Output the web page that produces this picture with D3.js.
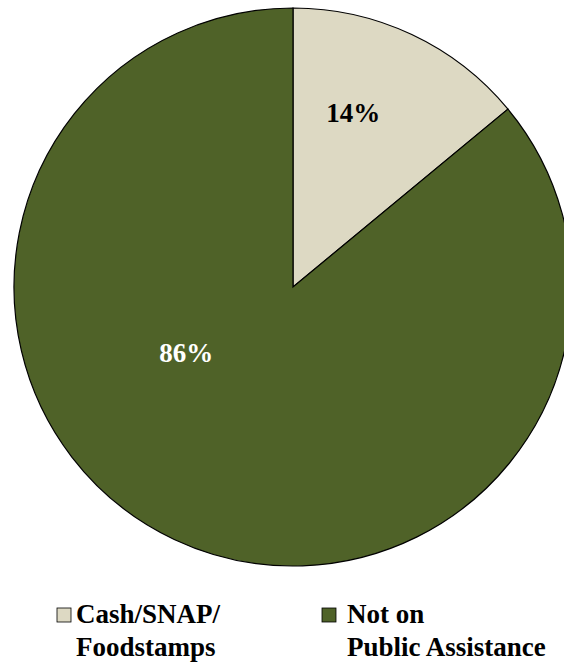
<!DOCTYPE html>
<html>
<head>
<meta charset="utf-8">
<script src="https://cdn.jsdelivr.net/npm/d3@7"></script>
<style>
  html, body { margin: 0; padding: 0; background: #fff; }
  svg { display: block; }
</style>
</head>
<body>
<svg id="chart" width="564" height="662"></svg>
<script>
// Share of households by public assistance status
const categories = ["Cash/SNAP/\nFoodstamps", "Not on\nPublic Assistance"];
const values = [14, 86];
const valueLabels = ["14%", "86%"];
const colors = ["#DDD9C3", "#4F6228"];
const labelColors = ["#000000", "#FFFFFF"];

const width = 564, height = 662;
const cx = 293, cy = 287, radius = 279;
const fontStack = "'Liberation Serif', 'Times New Roman', 'DejaVu Serif', serif";

const svg = d3.select("#chart");

const pie = d3.pie().sort(null).value(d => d)(values);
const arc = d3.arc().innerRadius(0).outerRadius(radius);

const g = svg.append("g").attr("transform", `translate(${cx},${cy})`);

g.selectAll("path.slice")
  .data(pie)
  .join("path")
  .attr("class", "slice")
  .attr("d", arc)
  .attr("fill", (d, i) => colors[i])
  .attr("stroke", "#000")
  .attr("stroke-width", 1.2);

// label placement inside each slice: fraction along the slice's angle span and of the radius
const labelPlace = [{ t: 0.377, r: 0.663 }, { t: 0.608, r: 0.448 }];
g.selectAll("text.value")
  .data(pie)
  .join("text")
  .attr("class", "value")
  .each(function (d, i) {
    const a = d.startAngle + labelPlace[i].t * (d.endAngle - d.startAngle);
    const rr = labelPlace[i].r * radius;
    d3.select(this)
      .attr("x", rr * Math.sin(a))
      .attr("y", -rr * Math.cos(a))
      .attr("dy", "0.35em");
  })
  .attr("text-anchor", "middle")
  .attr("font-family", fontStack)
  .attr("font-weight", "bold")
  .attr("font-size", 27)
  .attr("fill", (d, i) => labelColors[i])
  .text((d, i) => valueLabels[i]);

// legend
const legendX = [57, 322];
const textOffset = [19, 25];
const legend = svg.append("g");
categories.forEach((c, i) => {
  const lg = legend.append("g").attr("transform", `translate(${legendX[i]},608)`);
  lg.append("rect")
    .attr("width", 14).attr("height", 14)
    .attr("fill", colors[i])
    .attr("stroke", "#000").attr("stroke-width", 0.8);
  const t = lg.append("text")
    .attr("y", 15)
    .attr("font-family", fontStack)
    .attr("font-weight", "bold")
    .attr("font-size", 27)
    .attr("fill", "#000");
  c.split("\n").forEach((line, j) => {
    t.append("tspan")
      .attr("x", textOffset[i])
      .attr("dy", j === 0 ? 0 : 33)
      .text(line);
  });
});
</script>
</body>
</html>
